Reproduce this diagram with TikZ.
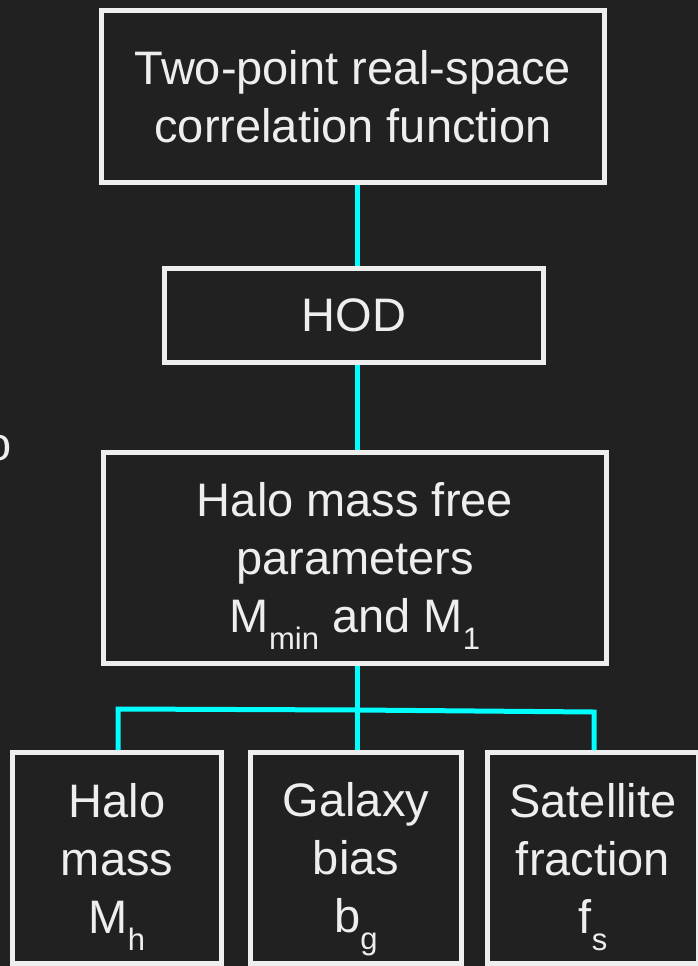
\documentclass[tikz,border=0pt]{standalone}
\usepackage{fontspec}
\setmainfont{Liberation Sans}
\definecolor{bg}{HTML}{212121}
\definecolor{fg}{HTML}{EEEEEE}
\definecolor{link}{HTML}{00FFFF}
\newcommand{\lowsub}[1]{\raisebox{-17pt}[0pt][0pt]{\fontsize{31}{31}\selectfont #1}}
\tikzset{
  box/.style={draw=fg, line width=5pt, fill=bg, text=fg, align=center, inner sep=0pt,
    font=\fontsize{47}{58}\selectfont},
  conn/.style={draw=link, line width=5pt}
}
\begin{document}
\begin{tikzpicture}[x=1pt,y=-1pt]
\fill[bg] (0,0) rectangle (698,966);
\useasboundingbox (0,0) rectangle (698,966);
\node[anchor=base, text=fg, font=\fontsize{47}{58}\selectfont, inner sep=0pt] (stray) at (-1,460) {o};
\node[box, minimum width=503pt, minimum height=172pt] (top) at (353,96.5) {Two-point real-space\\correlation function};
\node[box, minimum width=379pt, minimum height=94pt] (hod) at (354,315.5) {HOD};
\node[box, minimum width=503pt, minimum height=211pt] (par) at (355,558) {Halo mass free\\parameters\\M\lowsub{min} and M\lowsub{1}};
\node[box, minimum width=209pt, minimum height=211pt] (mh) at (117,858) {Halo\\mass\\M\lowsub{h}};
\node[box, minimum width=211pt, minimum height=211pt] (bg) at (356,858) {Galaxy\\bias\\b\lowsub{g}};
\node[box, minimum width=211pt, minimum height=211pt] (fs) at (593,858) {Satellite\\fraction\\f\lowsub{s}};
\coordinate (vx) at (357,0);
\coordinate (jl) at (118,709);
\coordinate (jm) at (357,710);
\coordinate (jr) at (594,712);
\draw[conn] (top.south -| vx) -- (hod.north -| vx);
\draw[conn] (hod.south -| vx) -- (par.north -| vx);
\draw[conn] (par.south -| vx) -- (jm);
\draw[conn, line join=miter] (mh.north -| jl) -- (jl) -- (jm) -- (jr) -- (fs.north -| jr);
\draw[conn] (jm) -- (bg.north -| jm);
\end{tikzpicture}
\end{document}
